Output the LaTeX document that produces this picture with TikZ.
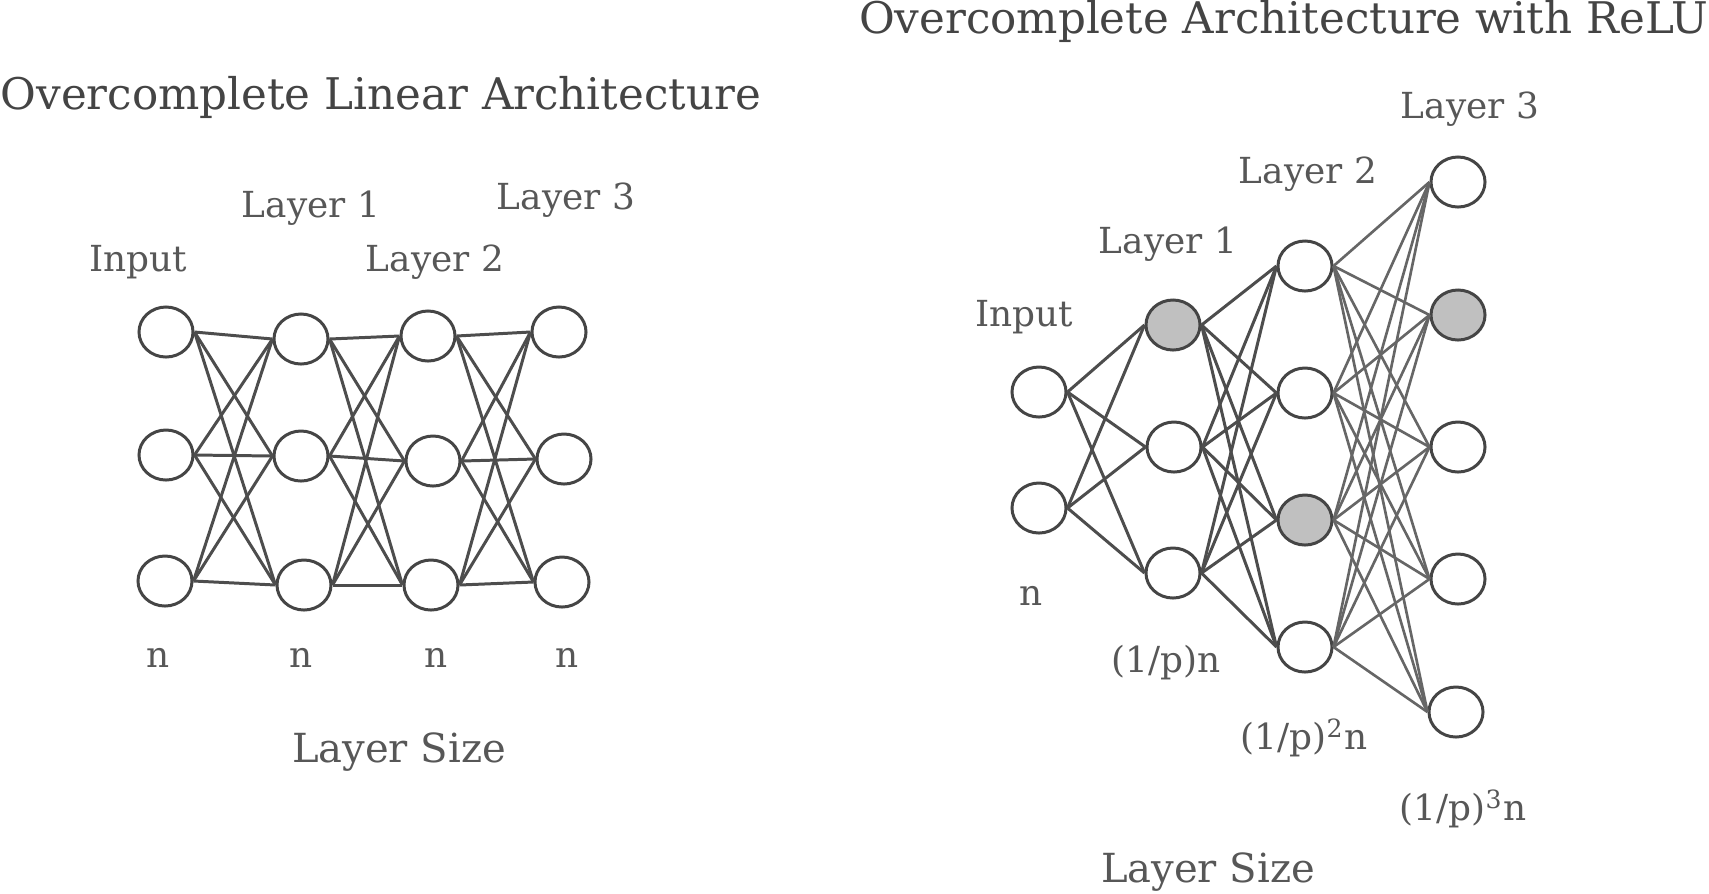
\documentclass[tikz,border=0pt]{standalone}
\usepackage{fontspec}
\setmainfont{DejaVu Serif}
\usepackage{tikz}
\usetikzlibrary{shapes.geometric}
\definecolor{inkgray}{HTML}{454545}
\definecolor{wiregray}{HTML}{4D4D4D}
\definecolor{lightwire}{HTML}{666666}
\definecolor{textgray}{HTML}{575757}
\definecolor{titlegray}{HTML}{444444}
\definecolor{cellfill}{HTML}{C0C0C0}

\begin{document}
\begin{tikzpicture}[x=0.01cm, y=-0.01cm,
    unit/.style={ellipse, draw=inkgray, line width=0.85pt, fill=white, inner sep=0pt,
                 minimum width=0.54cm, minimum height=0.5cm},
    active/.style={unit, fill=cellfill},
    wire/.style={wiregray, line width=0.85pt},
    softwire/.style={lightwire, line width=0.75pt},
    lbl/.style={text=textgray, font=\fontsize{10.2}{12}\selectfont},
    ttl/.style={text=titlegray, font=\fontsize{12.4}{15}\selectfont, inner sep=0pt}]
  \useasboundingbox (0,0) rectangle (1709,893);
  % --- left panel: linear net, every layer of width n ---
  \node[ttl, anchor=west] (ltitle) at (0,97) {Overcomplete Linear Architecture};
  \foreach \i/\x/\y in {1/166/332, 2/166/455, 3/165/581}
    \node[unit] (lin\i) at (\x,\y) {};
  \foreach \i/\x/\y in {1/301/339, 2/301/456, 3/304/585}
    \node[unit] (lone\i) at (\x,\y) {};
  \foreach \i/\x/\y in {1/428/336, 2/433/461, 3/431/585}
    \node[unit] (ltwo\i) at (\x,\y) {};
  \foreach \i/\x/\y in {1/559/332, 2/564/459, 3/562/582}
    \node[unit] (lthree\i) at (\x,\y) {};
  \foreach \a/\b in {lin/lone, lone/ltwo, ltwo/lthree}
    \foreach \i in {1,2,3}
      \foreach \j in {1,2,3}
        \draw[wire] (\a\i.east) -- (\b\j.west);
  \node[lbl] (linlbl)    at (138,262) {Input};
  \node[lbl] (lonelbl)   at (311,208) {Layer 1};
  \node[lbl] (ltwolbl)   at (435,262) {Layer 2};
  \node[lbl] (lthreelbl) at (566,200) {Layer 3};
  \foreach \x/\nm in {158/a, 301/b, 436/c, 567/d}
    \node[lbl] (lsize\nm) at (\x,658) {n};
  \node[lbl, font=\fontsize{11.4}{13}\selectfont] (lsizelbl) at (399,752) {Layer Size};
  % --- right panel: ReLU net, widths shrink by 1/p per layer ---
  \node[ttl, anchor=east] (rtitle) at (1709,21) {Overcomplete Architecture with ReLU};
  \foreach \i/\x/\y in {1/1039/392, 2/1039/508}
    \node[unit] (rin\i) at (\x,\y) {};
  \foreach \i/\x/\y/\st in {1/1173/325/active, 2/1174/447/unit, 3/1173/573/unit}
    \node[\st] (rone\i) at (\x,\y) {};
  \foreach \i/\x/\y/\st in {1/1305/266/unit, 2/1305/393/unit, 3/1305/520/active, 4/1305/647/unit}
    \node[\st] (rtwo\i) at (\x,\y) {};
  \foreach \i/\x/\y/\st in {1/1458/182/unit, 2/1458/315/active, 3/1458/447/unit, 4/1458/579/unit, 5/1456/712/unit}
    \node[\st] (rthree\i) at (\x,\y) {};
  \foreach \i in {1,2}
    \foreach \j in {1,2,3}
      \draw[wire] (rin\i.east) -- (rone\j.west);
  \foreach \i in {1,2,3}
    \foreach \j in {1,...,4}
      \draw[wire] (rone\i.east) -- (rtwo\j.west);
  \foreach \i in {1,...,4}
    \foreach \j in {1,...,5}
      \draw[softwire] (rtwo\i.east) -- (rthree\j.west);
  \node[lbl] (rinlbl)    at (1024,317) {Input};
  \node[lbl] (ronelbl)   at (1168,244) {Layer 1};
  \node[lbl] (rtwolbl)   at (1308,174) {Layer 2};
  \node[lbl] (rthreelbl) at (1470,109) {Layer 3};
  \node[lbl] (rsizea) at (1031,596) {n};
  \node[lbl] (rsizeb) at (1166,663) {(1/p)n};
  \node[lbl] (rsizec) at (1304,738) {(1/p)\textsuperscript{2}n};
  \node[lbl] (rsized) at (1463,809) {(1/p)\textsuperscript{3}n};
  \node[lbl, font=\fontsize{11.4}{13}\selectfont] (rsizelbl) at (1208,872) {Layer Size};
\end{tikzpicture}
\end{document}
